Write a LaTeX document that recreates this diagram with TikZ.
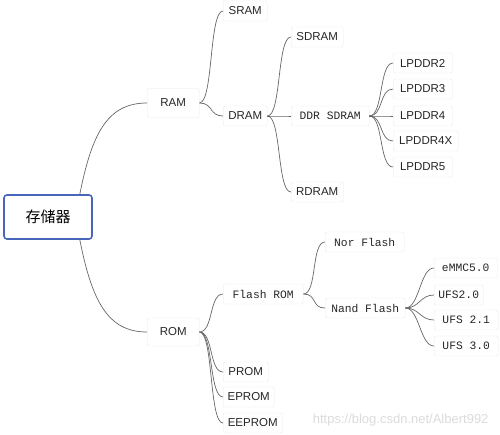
\documentclass[tikz,border=0pt]{standalone}
\usepackage{fontspec}
\setmainfont{Liberation Sans}
\newfontfamily\cjkfont{Noto Sans CJK SC}
\newfontfamily\monof{Liberation Mono}
\begin{document}
\begin{tikzpicture}[x=1pt,y=-1pt,
  box/.style={draw=black!9, rounded corners=2pt, minimum height=20pt, inner sep=1pt, anchor=west, font=\fontsize{11.5}{13}\selectfont, text=black!85},
  mbox/.style={box, font=\monof\fontsize{11.3}{13}\selectfont},
  conn/.style={draw=black!60, line width=0.7pt},
  rootbox/.style={draw={rgb,255:red,72;green,101;blue,185}, line width=1.6pt, rounded corners=3pt, minimum width=88pt, minimum height=44pt, font=\cjkfont\fontsize{15}{16}\selectfont}]
\useasboundingbox (0,0) rectangle (500,434);
\node[rootbox] (root) at (48,217) {存储器};
\node[box, minimum width=52pt, minimum height=29pt] (ram) at (147,103) {RAM};
\node[box, minimum width=52pt, minimum height=28pt] (rom) at (147,332) {ROM};
% RAM side
\node[box, minimum width=44pt] (sram) at (223,11) {SRAM};
\node[box, minimum width=44pt] (dram) at (223,116) {DRAM};
\node[box, minimum width=52pt] (sdram) at (291,37) {SDRAM};
\node[mbox, minimum width=78pt] (ddr) at (291,116) {DDR SDRAM};
\node[box, minimum width=52pt] (rdram) at (291,192) {RDRAM};
\node[box, minimum width=59pt] (lp2) at (393,63) {LPDDR2};
\node[box, minimum width=59pt] (lp3) at (393,89) {LPDDR3};
\node[box, minimum width=59pt] (lp4) at (393,116) {LPDDR4};
\node[box, minimum width=65pt] (lp4x) at (393,141) {LPDDR4X};
\node[box, minimum width=59pt] (lp5) at (393,167) {LPDDR5};
% ROM side
\node[mbox, minimum width=80pt] (flash) at (223,294) {Flash ROM};
\node[mbox, minimum width=79pt] (nor) at (325,242) {Nor Flash};
\node[mbox, minimum width=80pt] (nand) at (325,308) {Nand Flash};
\node[mbox, minimum width=63pt] (emmc) at (434,268) {eMMC5.0};
\node[mbox, minimum width=49pt] (ufsa) at (434,295) {UFS2.0};
\node[mbox, minimum width=64pt] (ufsb) at (434,320) {UFS 2.1};
\node[mbox, minimum width=64pt] (ufsc) at (434,346) {UFS 3.0};
\node[box, minimum width=45pt] (prom) at (223,372) {PROM};
\node[box, minimum width=51pt] (eprom) at (223,397) {EPROM};
\node[box, minimum width=59pt] (eeprom) at (223,423) {EEPROM};
% watermark
\node[text=black!14, font=\fontsize{13}{14}\selectfont, anchor=east] (wm) at (492,420) {https://blog.csdn.net/Albert992};
% connectors
\coordinate (rt) at ([xshift=-13pt]root.north east);
\coordinate (rb) at ([xshift=-13pt]root.south east);
\draw[conn] (rt) .. controls +(12,-60) and +(-40,0) .. (ram.west);
\draw[conn] (rb) .. controls +(12,60) and +(-40,0) .. (rom.west);
\foreach \c in {sram,dram}
  \draw[conn] (ram.east) .. controls +(14,0) and +(-14,0) .. (\c.west);
\foreach \c in {sdram,ddr,rdram}
  \draw[conn] (dram.east) .. controls +(14,0) and +(-14,0) .. (\c.west);
\foreach \c in {lp2,lp3,lp4,lp4x,lp5}
  \draw[conn] (ddr.east) .. controls +(14,0) and +(-14,0) .. (\c.west);
\foreach \c in {flash,prom,eprom,eeprom}
  \draw[conn] (rom.east) .. controls +(14,0) and +(-14,0) .. (\c.west);
\foreach \c in {nor,nand}
  \draw[conn] (flash.east) .. controls +(14,0) and +(-14,0) .. (\c.west);
\foreach \c in {emmc,ufsa,ufsb,ufsc}
  \draw[conn] (nand.east) .. controls +(14,0) and +(-14,0) .. (\c.west);
\end{tikzpicture}
\end{document}
